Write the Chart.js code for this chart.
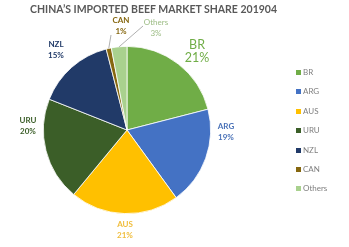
<!DOCTYPE html>
<html>
<head>
<meta charset="utf-8">
<script src="https://cdn.jsdelivr.net/npm/chart.js@4/dist/chart.umd.min.js"></script>
<style>
  html, body { margin: 0; padding: 0; background: #fff; }
  #wrap { position: relative; width: 349px; height: 247px; overflow: hidden; }
  #title {
    position: absolute; left: 0; width: 307px; top: 3px; text-align: center;
    font: bold 10.5px Lato, "Open Sans", sans-serif; color: #595959; white-space: nowrap;
  }
  #legend { position: absolute; left: 296px; top: 66px; font: 8px Lato, "Open Sans", sans-serif; color: #7f7f7f; }
  #legend div { height: 19.4px; line-height: 12px; white-space: nowrap; }
  #legend span { display: inline-block; width: 5px; height: 5px; margin-right: 2px; vertical-align: 0px; }
</style>
</head>
<body>
<div id="wrap">
  <canvas id="c" width="349" height="247"></canvas>
  <div id="title">CHINA’S IMPORTED BEEF MARKET SHARE 201904</div>
  <div id="legend"></div>
</div>
<script>
// ========== data ==========
const countries = ["BR", "ARG", "AUS", "URU", "NZL", "CAN", "Others"];
const shares = [21, 19, 21, 20, 15, 1, 3];

// ========== style ==========
const sliceColors = ["#70ad47", "#4472c4", "#ffc000", "#3b5e28", "#213a68", "#86670f", "#a9d18e"];
const labelColors = ["#70ad47", "#4a72b8", "#f0bd3c", "#3b5e28", "#213a68", "#86670f", "#9cbc84"];
// label block centre, offset from pie centre
const labelOffset = [[70, -79], [99, 2], [-2, 100], [-99, -4], [-71, -80], [-6, -104], [29, -102]];
// where the leader line leaves the label (only small slices)
const leaderFrom = { 5: [-16, -95], 6: [16, -104] };

// ========== labels plugin ==========
const sliceLabels = {
  id: "sliceLabels",
  afterDraw(chart) {
    const ctx = chart.ctx;
    const arcs = chart.getDatasetMeta(0).data;
    ctx.save();
    arcs.forEach((arc, i) => {
      const { x: cx, y: cy, startAngle, endAngle, outerRadius } = arc.getProps(["x", "y", "startAngle", "endAngle", "outerRadius"], true);
      const [dx, dy] = labelOffset[i];
      const big = i === 0;
      const lh = big ? 13 : 10.5;
      ctx.fillStyle = labelColors[i];
      ctx.font = big ? "12.5px Lato, 'Open Sans', sans-serif" : (i === 6 ? "" : "bold ") + "8px Lato, 'Open Sans', sans-serif";
      ctx.textAlign = "center";
      ctx.textBaseline = "middle";
      ctx.fillText(countries[i], cx + dx, cy + dy - lh / 2);
      ctx.fillText(shares[i] + "%", cx + dx, cy + dy + lh / 2);

      if (leaderFrom[i]) {
        const mid = (startAngle + endAngle) / 2;
        ctx.strokeStyle = "#a6a6a6";
        ctx.lineWidth = 0.9;
        ctx.beginPath();
        ctx.moveTo(cx + leaderFrom[i][0], cy + leaderFrom[i][1]);
        ctx.lineTo(cx + Math.cos(mid) * outerRadius, cy + Math.sin(mid) * outerRadius);
        ctx.stroke();
      }
    });
    ctx.restore();
  },
};

// ========== chart ==========
const chart = new Chart(document.getElementById("c"), {
  type: "pie",
  data: {
    labels: countries,
    datasets: [{
      data: shares,
      backgroundColor: sliceColors,
      borderColor: "#ffffff",
      borderWidth: 0.8,
    }],
  },
  options: {
    responsive: false,
    animation: false,
    layout: { padding: { left: 43, top: 46, right: 138, bottom: 33 } },
    plugins: { legend: { display: false }, tooltip: { enabled: false } },
  },
  plugins: [sliceLabels],
});

// ========== legend ==========
const legendEl = document.getElementById("legend");
countries.forEach((name, i) => {
  const row = document.createElement("div");
  row.innerHTML = `<span style="background:${sliceColors[i]}"></span>${name}`;
  legendEl.appendChild(row);
});
</script>
</body>
</html>
